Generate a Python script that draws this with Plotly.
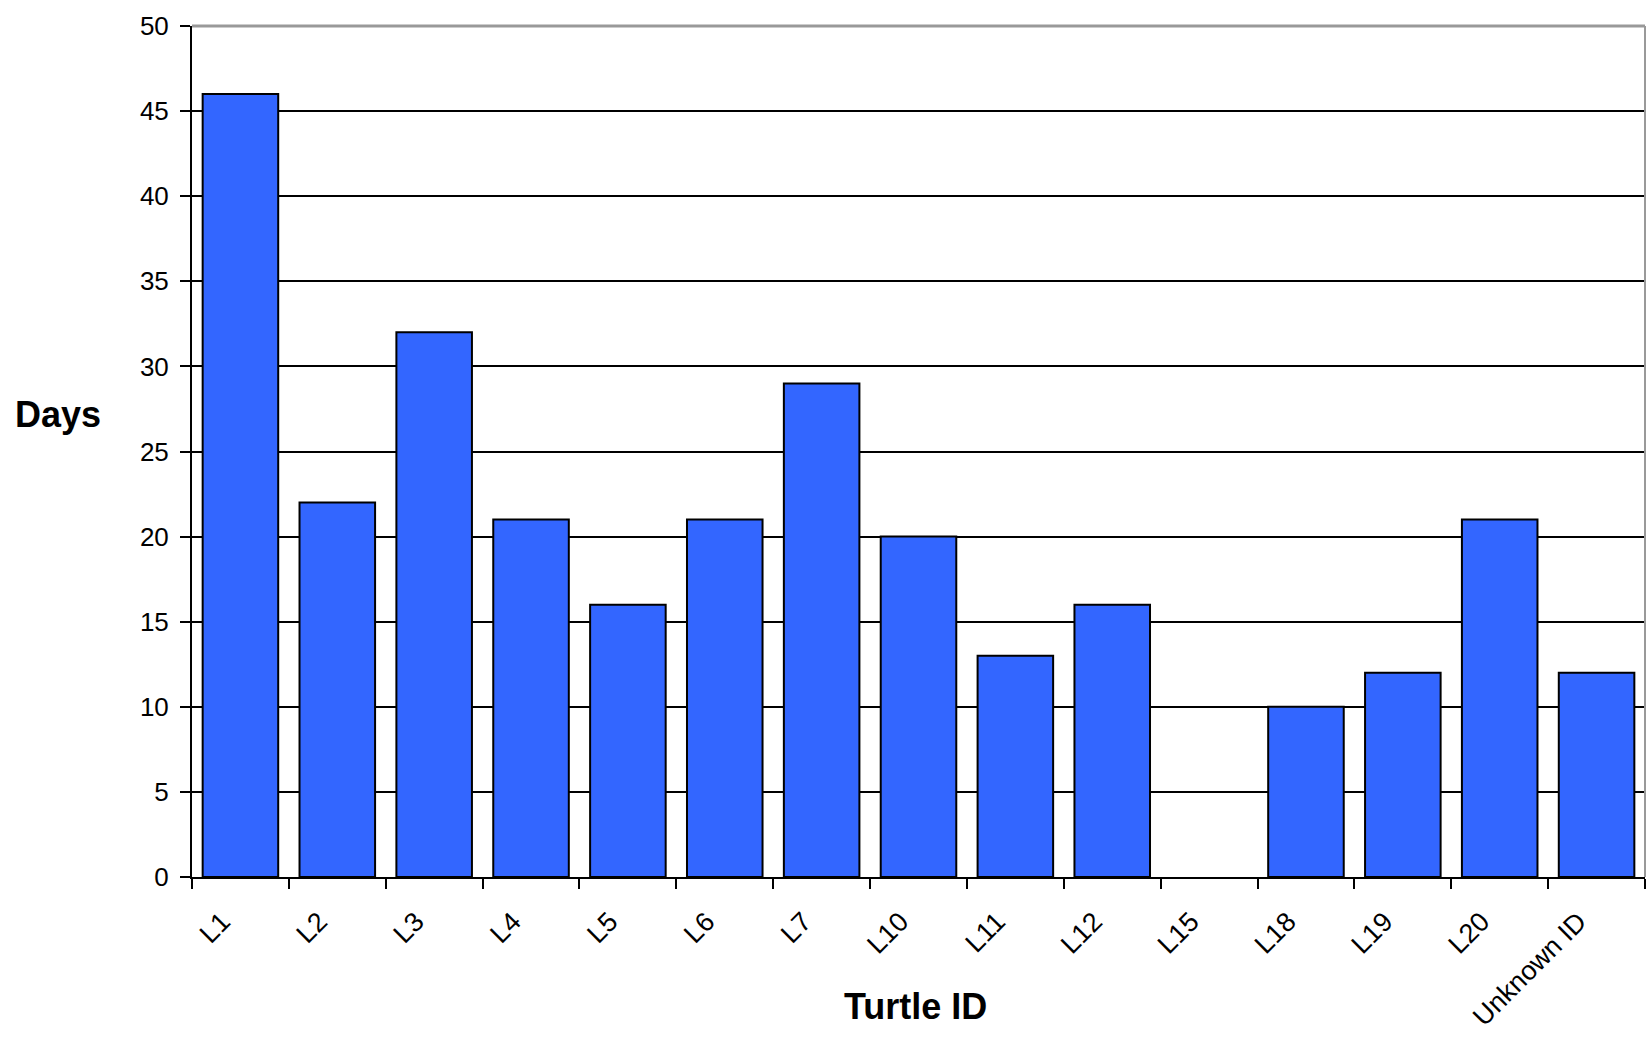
import plotly.graph_objects as go

categories = ["L1", "L2", "L3", "L4", "L5", "L6", "L7", "L10", "L11", "L12",
              "L15", "L18", "L19", "L20", "Unknown ID"]
days = [46, 22, 32, 21, 16, 21, 29, 20, 13, 16, 0, 10, 12, 21, 12]
y_ticks = [0, 5, 10, 15, 20, 25, 30, 35, 40, 45, 50]

FONT = "Liberation Sans, Arial, sans-serif"
# zero-height bars show no outline in the reference
outline_widths = [2 if v > 0 else 0 for v in days]

fig = go.Figure()
fig.add_trace(go.Bar(
    x=categories, y=days,
    marker=dict(color="#3366FF", line=dict(color="#000000", width=outline_widths)),
))

fig.update_layout(
    width=1652, height=1038,
    margin=dict(l=192, r=7, t=26, b=161),
    paper_bgcolor="white", plot_bgcolor="white",
    bargap=0.22,
    showlegend=False,
    font=dict(family=FONT, color="black"),
    xaxis=dict(
        type="category",
        tickson="boundaries",
        ticks="outside", ticklen=10, tickwidth=2, tickcolor="black",
        showline=True, linecolor="black", linewidth=2,
        showgrid=False,
        tickangle=-45,
        ticklabelstandoff=16,
        ticklabelshift=-18,
        tickfont=dict(size=27, family=FONT),
    ),
    yaxis=dict(
        range=[0, 50],
        tickvals=y_ticks,
        ticks="outside", ticklen=10, tickwidth=2, tickcolor="black",
        showline=True, linecolor="black", linewidth=2,
        showgrid=True, gridcolor="black", gridwidth=2,
        zeroline=False,
        ticklabelstandoff=6,
        tickfont=dict(size=26, family=FONT),
    ),
    annotations=[
        dict(text="<b>Days</b>", xref="paper", yref="paper",
             x=-0.123, y=0.544, xanchor="left", yanchor="middle",
             showarrow=False, font=dict(size=36)),
        dict(text="<b>Turtle ID</b>", xref="paper", yref="paper",
             x=0.498, y=-0.1516, xanchor="center", yanchor="middle",
             showarrow=False, font=dict(size=36)),
    ],
    shapes=[
        dict(type="line", xref="paper", yref="paper", x0=0, x1=1, y0=1, y1=1,
             line=dict(color="#999999", width=3), layer="above"),
        dict(type="line", xref="paper", yref="paper", x0=1, x1=1, y0=0, y1=1,
             line=dict(color="#999999", width=2), layer="above"),
    ],
)

fig.write_html("out.html",
               config={"displayModeBar": False},
               post_script="document.body.style.margin='0';document.body.style.overflow='hidden';")
